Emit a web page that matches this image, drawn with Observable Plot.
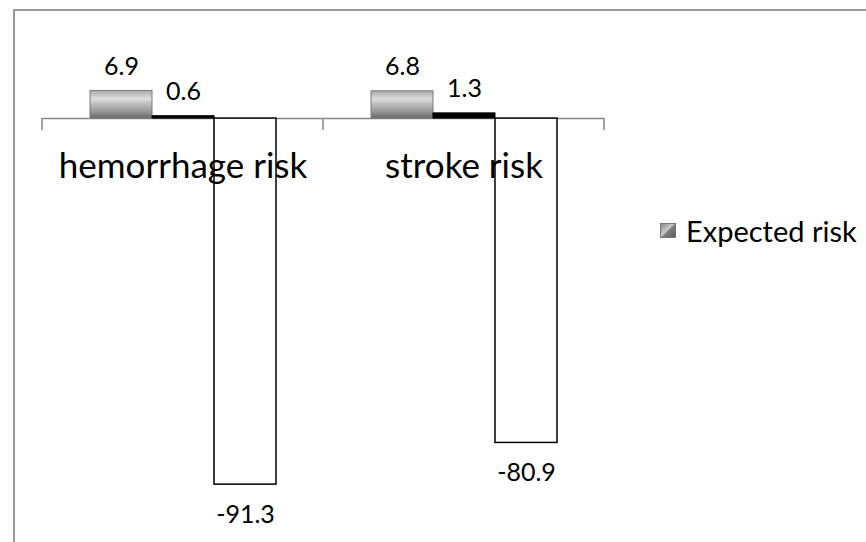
<!DOCTYPE html>
<html>
<head>
<meta charset="utf-8">
<script src="https://cdn.jsdelivr.net/npm/d3@7"></script>
<script src="https://cdn.jsdelivr.net/npm/@observablehq/plot@0.6"></script>
<style>
  html, body { margin: 0; padding: 0; background: #fff; overflow: hidden; }
  #wrap { position: relative; width: 866px; height: 542px; overflow: hidden; font-family: Lato, sans-serif; }
  #border { position: absolute; left: 13px; top: 9px; width: 1000px; height: 1000px;
            border-left: 2px solid #9a9a9a; border-top: 2px solid #9a9a9a; box-sizing: border-box; }
  #chart { position: absolute; left: 0; top: 0; }
  #legend { position: absolute; left: 660px; top: 213px; display: flex; align-items: center;
            font-family: Lato, sans-serif; font-size: 29px; color: #000; white-space: nowrap; }
  #legend .sw { width: 16px; height: 15px; margin-right: 10px; box-sizing: border-box;
                border: 1px solid #777;
                background: linear-gradient(135deg, #8a8a8a 0%, #c9c9c9 45%, #7d7d7d 55%, #5e5e5e 100%); }
</style>
</head>
<body>
<div id="wrap">
  <div id="border"></div>
  <div id="chart"></div>
  <div id="legend"><div class="sw"></div><span>Expected risk</span></div>
</div>
<script>
// ---- data ----
const categories = ["hemorrhage risk", "stroke risk"];
const seriesNames = ["Expected risk", "Series 2", "Series 3"];
const expectedRisk = [6.9, 6.8];
const series2 = [0.6, 1.3];
const series3 = [-91.3, -80.9];

const seriesValues = [expectedRisk, series2, series3];
const rows = [];
categories.forEach((c, i) => {
  seriesNames.forEach((s, j) => rows.push({category: c, series: s, value: seriesValues[j][i]}));
});

const styles = {
  "Expected risk": {fill: "url(#bevelGray)", stroke: "#7a7a7a", strokeWidth: 1},
  "Series 2": {fill: "#000", stroke: "#000", strokeWidth: 1},
  "Series 3": {fill: "#fff", stroke: "#000", strokeWidth: 1.5}
};

const barMarks = seriesNames.map(s => Plot.barY(rows.filter(d => d.series === s), {
  fx: "category", x: "series", y: "value", ...styles[s]
}));

const pos = rows.filter(d => d.value >= 0);
const neg = rows.filter(d => d.value < 0);

const plot = Plot.plot({
  width: 866,
  height: 542,
  marginLeft: 42,
  marginRight: 262,
  marginTop: 78,
  marginBottom: 23,
  style: {fontFamily: "Lato, sans-serif", background: "transparent", color: "#000"},
  fx: {domain: categories, paddingInner: 0, paddingOuter: 0, axis: null, label: null},
  x: {domain: seriesNames, paddingInner: 0, paddingOuter: 0.76, axis: null, label: null},
  y: {domain: [-100, 10], axis: null, label: null},
  marks: [
    Plot.ruleY([0], {stroke: "#868686", strokeWidth: 1.5}),
    ...barMarks,
    Plot.text(pos, {fx: "category", x: "series", y: "value", text: d => d.value.toFixed(1),
      lineAnchor: "middle", dy: -24, fontSize: 25, fill: "#000"}),
    Plot.text(neg, {fx: "category", x: "series", y: "value", text: d => d.value.toFixed(1),
      lineAnchor: "middle", dy: 30, fontSize: 25, fill: "#000"}),
    Plot.text(categories, {fx: d => d, y: d => 0, text: d => d, lineAnchor: "top",
      dy: 35, fontSize: 35, fill: "#000"})
  ]
});

// gradient definition for the beveled gray bars
d3.select(plot).insert("defs", ":first-child").html(`
  <linearGradient id="bevelGray" x1="0" y1="0" x2="0" y2="1">
    <stop offset="0%" stop-color="#a8a8a8"/>
    <stop offset="30%" stop-color="#dedede"/>
    <stop offset="50%" stop-color="#bcbcbc"/>
    <stop offset="80%" stop-color="#8f8f8f"/>
    <stop offset="100%" stop-color="#6a6a6a"/>
  </linearGradient>`);

// category-boundary tick marks on the zero axis, placed with Plot's scales
const fx = plot.scale("fx");
const ys = plot.scale("y");
const y0 = ys.apply(0);
const bounds = categories.map(c => fx.apply(c)).concat([fx.apply(categories[categories.length - 1]) + fx.bandwidth]);
d3.select(plot).append("g").selectAll("line").data(bounds).join("line")
  .attr("x1", d => d).attr("x2", d => d)
  .attr("y1", y0).attr("y2", y0 + 12)
  .attr("stroke", "#868686").attr("stroke-width", 1.5);

document.getElementById("chart").appendChild(plot);
</script>
</body>
</html>
